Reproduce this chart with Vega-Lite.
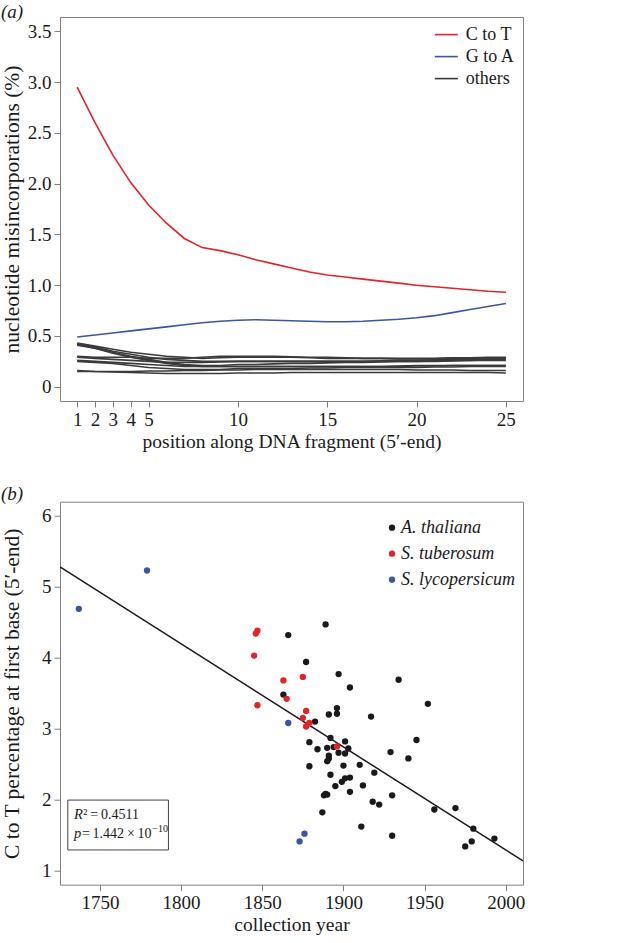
{
  "$schema": "https://vega.github.io/schema/vega-lite/v6.json",
  "background": "white",
  "padding": {"left": 0, "top": 2, "right": 5, "bottom": 5},
  "autosize": {"type": "pad"},
  "bounds": "flush",
  "spacing": 100.7,
  "resolve": {"scale": {"color": "independent", "strokeWidth": "independent", "x": "independent", "y": "independent"}, "legend": {"color": "independent"}},
  "config": {
    "font": "Liberation Serif",
    "view": {"stroke": "#808080", "strokeWidth": 1},
    "axis": {"domain": false, "grid": false, "ticks": true, "tickColor": "#808080", "tickSize": 6, "tickWidth": 1, "labelFont": "Liberation Serif", "labelFontSize": 19, "labelColor": "#1a1a1a", "labelPadding": 3, "titleFont": "Liberation Serif", "titleFontSize": 20.5, "titleFontWeight": "normal", "titleColor": "#1a1a1a", "labelFlush": false, "labelOverlap": false},
    "axisY": {"labelAngle": 0, "titlePadding": 3, "minExtent": 34, "maxExtent": 34, "titleFontSize": 21.5},
    "axisX": {"titlePadding": 3, "titleFontSize": 19.5},
    "title": {"font": "Liberation Serif", "fontSize": 19, "fontWeight": "normal", "fontStyle": "italic", "anchor": "start", "frame": "bounds", "color": "#1a1a1a"},
    "legend": {"labelFont": "Liberation Serif", "labelFontSize": 18, "labelColor": "#1a1a1a", "padding": 0}
  },
  "datasets": {
    "mis": [
      {"pos": 1, "CT": 2.95, "GA": 0.49, "o1": 0.43, "o2": 0.42, "o3": 0.41, "o4": 0.42, "o5": 0.30, "o6": 0.29, "o7": 0.26, "o8": 0.25, "o9": 0.16, "o10": 0.15},
      {"pos": 2, "CT": 2.60, "GA": 0.51, "o1": 0.40, "o2": 0.39, "o3": 0.38, "o4": 0.38, "o5": 0.29, "o6": 0.28, "o7": 0.25, "o8": 0.24, "o9": 0.15, "o10": 0.15},
      {"pos": 3, "CT": 2.28, "GA": 0.53, "o1": 0.37, "o2": 0.35, "o3": 0.34, "o4": 0.33, "o5": 0.29, "o6": 0.27, "o7": 0.24, "o8": 0.23, "o9": 0.145, "o10": 0.15},
      {"pos": 4, "CT": 2.01, "GA": 0.55, "o1": 0.34, "o2": 0.32, "o3": 0.30, "o4": 0.29, "o5": 0.29, "o6": 0.26, "o7": 0.23, "o8": 0.21, "o9": 0.14, "o10": 0.15},
      {"pos": 5, "CT": 1.79, "GA": 0.57, "o1": 0.32, "o2": 0.29, "o3": 0.27, "o4": 0.26, "o5": 0.28, "o6": 0.25, "o7": 0.22, "o8": 0.19, "o9": 0.135, "o10": 0.155},
      {"pos": 6, "CT": 1.61, "GA": 0.59, "o1": 0.30, "o2": 0.27, "o3": 0.24, "o4": 0.23, "o5": 0.28, "o6": 0.24, "o7": 0.21, "o8": 0.18, "o9": 0.13, "o10": 0.155},
      {"pos": 7, "CT": 1.46, "GA": 0.61, "o1": 0.29, "o2": 0.26, "o3": 0.22, "o4": 0.21, "o5": 0.28, "o6": 0.24, "o7": 0.20, "o8": 0.17, "o9": 0.13, "o10": 0.16},
      {"pos": 8, "CT": 1.37, "GA": 0.63, "o1": 0.28, "o2": 0.25, "o3": 0.21, "o4": 0.20, "o5": 0.29, "o6": 0.24, "o7": 0.20, "o8": 0.17, "o9": 0.13, "o10": 0.16},
      {"pos": 9, "CT": 1.34, "GA": 0.645, "o1": 0.285, "o2": 0.25, "o3": 0.21, "o4": 0.20, "o5": 0.30, "o6": 0.245, "o7": 0.20, "o8": 0.17, "o9": 0.13, "o10": 0.165},
      {"pos": 10, "CT": 1.30, "GA": 0.655, "o1": 0.29, "o2": 0.25, "o3": 0.22, "o4": 0.20, "o5": 0.30, "o6": 0.25, "o7": 0.20, "o8": 0.18, "o9": 0.135, "o10": 0.165},
      {"pos": 11, "CT": 1.25, "GA": 0.66, "o1": 0.29, "o2": 0.25, "o3": 0.22, "o4": 0.20, "o5": 0.30, "o6": 0.25, "o7": 0.20, "o8": 0.18, "o9": 0.135, "o10": 0.17},
      {"pos": 12, "CT": 1.21, "GA": 0.655, "o1": 0.29, "o2": 0.25, "o3": 0.225, "o4": 0.20, "o5": 0.30, "o6": 0.25, "o7": 0.20, "o8": 0.18, "o9": 0.135, "o10": 0.17},
      {"pos": 13, "CT": 1.17, "GA": 0.65, "o1": 0.29, "o2": 0.25, "o3": 0.23, "o4": 0.20, "o5": 0.295, "o6": 0.25, "o7": 0.20, "o8": 0.18, "o9": 0.14, "o10": 0.17},
      {"pos": 14, "CT": 1.13, "GA": 0.645, "o1": 0.285, "o2": 0.25, "o3": 0.23, "o4": 0.20, "o5": 0.29, "o6": 0.25, "o7": 0.20, "o8": 0.185, "o9": 0.14, "o10": 0.17},
      {"pos": 15, "CT": 1.10, "GA": 0.64, "o1": 0.28, "o2": 0.25, "o3": 0.235, "o4": 0.20, "o5": 0.29, "o6": 0.25, "o7": 0.20, "o8": 0.185, "o9": 0.14, "o10": 0.17},
      {"pos": 16, "CT": 1.08, "GA": 0.64, "o1": 0.28, "o2": 0.25, "o3": 0.24, "o4": 0.20, "o5": 0.285, "o6": 0.25, "o7": 0.20, "o8": 0.19, "o9": 0.14, "o10": 0.17},
      {"pos": 17, "CT": 1.06, "GA": 0.645, "o1": 0.28, "o2": 0.25, "o3": 0.24, "o4": 0.20, "o5": 0.28, "o6": 0.25, "o7": 0.20, "o8": 0.19, "o9": 0.14, "o10": 0.17},
      {"pos": 18, "CT": 1.04, "GA": 0.655, "o1": 0.28, "o2": 0.255, "o3": 0.245, "o4": 0.20, "o5": 0.28, "o6": 0.25, "o7": 0.20, "o8": 0.19, "o9": 0.14, "o10": 0.17},
      {"pos": 19, "CT": 1.02, "GA": 0.665, "o1": 0.28, "o2": 0.26, "o3": 0.25, "o4": 0.20, "o5": 0.275, "o6": 0.25, "o7": 0.205, "o8": 0.19, "o9": 0.14, "o10": 0.17},
      {"pos": 20, "CT": 1.00, "GA": 0.68, "o1": 0.28, "o2": 0.26, "o3": 0.25, "o4": 0.205, "o5": 0.275, "o6": 0.25, "o7": 0.21, "o8": 0.19, "o9": 0.14, "o10": 0.165},
      {"pos": 21, "CT": 0.985, "GA": 0.70, "o1": 0.28, "o2": 0.265, "o3": 0.255, "o4": 0.205, "o5": 0.275, "o6": 0.25, "o7": 0.21, "o8": 0.195, "o9": 0.14, "o10": 0.165},
      {"pos": 22, "CT": 0.97, "GA": 0.73, "o1": 0.285, "o2": 0.27, "o3": 0.26, "o4": 0.21, "o5": 0.28, "o6": 0.255, "o7": 0.21, "o8": 0.195, "o9": 0.14, "o10": 0.165},
      {"pos": 23, "CT": 0.955, "GA": 0.76, "o1": 0.285, "o2": 0.27, "o3": 0.26, "o4": 0.21, "o5": 0.28, "o6": 0.26, "o7": 0.21, "o8": 0.20, "o9": 0.14, "o10": 0.16},
      {"pos": 24, "CT": 0.94, "GA": 0.79, "o1": 0.29, "o2": 0.275, "o3": 0.265, "o4": 0.21, "o5": 0.28, "o6": 0.26, "o7": 0.21, "o8": 0.20, "o9": 0.14, "o10": 0.16},
      {"pos": 25, "CT": 0.93, "GA": 0.82, "o1": 0.29, "o2": 0.28, "o3": 0.27, "o4": 0.21, "o5": 0.28, "o6": 0.26, "o7": 0.21, "o8": 0.20, "o9": 0.135, "o10": 0.16}
    ],
    "samples": [
      {"year": 1866, "pct": 4.32, "species": "A. thaliana"},
      {"year": 1889, "pct": 4.47, "species": "A. thaliana"},
      {"year": 1877, "pct": 3.94, "species": "A. thaliana"},
      {"year": 1897, "pct": 3.77, "species": "A. thaliana"},
      {"year": 1934, "pct": 3.69, "species": "A. thaliana"},
      {"year": 1904, "pct": 3.58, "species": "A. thaliana"},
      {"year": 1863, "pct": 3.48, "species": "A. thaliana"},
      {"year": 1952, "pct": 3.35, "species": "A. thaliana"},
      {"year": 1882.5, "pct": 3.10, "species": "A. thaliana"},
      {"year": 1896, "pct": 3.29, "species": "A. thaliana"},
      {"year": 1891, "pct": 3.20, "species": "A. thaliana"},
      {"year": 1896, "pct": 3.21, "species": "A. thaliana"},
      {"year": 1917, "pct": 3.17, "species": "A. thaliana"},
      {"year": 1879, "pct": 2.81, "species": "A. thaliana"},
      {"year": 1892, "pct": 2.87, "species": "A. thaliana"},
      {"year": 1901, "pct": 2.82, "species": "A. thaliana"},
      {"year": 1884, "pct": 2.71, "species": "A. thaliana"},
      {"year": 1890, "pct": 2.73, "species": "A. thaliana"},
      {"year": 1894, "pct": 2.74, "species": "A. thaliana"},
      {"year": 1897, "pct": 2.66, "species": "A. thaliana"},
      {"year": 1903, "pct": 2.72, "species": "A. thaliana"},
      {"year": 1901, "pct": 2.65, "species": "A. thaliana"},
      {"year": 1891, "pct": 2.62, "species": "A. thaliana"},
      {"year": 1891, "pct": 2.58, "species": "A. thaliana"},
      {"year": 1890, "pct": 2.54, "species": "A. thaliana"},
      {"year": 1929, "pct": 2.67, "species": "A. thaliana"},
      {"year": 1945, "pct": 2.84, "species": "A. thaliana"},
      {"year": 1940, "pct": 2.58, "species": "A. thaliana"},
      {"year": 1879, "pct": 2.47, "species": "A. thaliana"},
      {"year": 1900, "pct": 2.48, "species": "A. thaliana"},
      {"year": 1910, "pct": 2.49, "species": "A. thaliana"},
      {"year": 1919, "pct": 2.38, "species": "A. thaliana"},
      {"year": 1892, "pct": 2.35, "species": "A. thaliana"},
      {"year": 1901, "pct": 2.30, "species": "A. thaliana"},
      {"year": 1904, "pct": 2.31, "species": "A. thaliana"},
      {"year": 1899, "pct": 2.25, "species": "A. thaliana"},
      {"year": 1895, "pct": 2.19, "species": "A. thaliana"},
      {"year": 1912, "pct": 2.20, "species": "A. thaliana"},
      {"year": 1904, "pct": 2.11, "species": "A. thaliana"},
      {"year": 1888, "pct": 2.06, "species": "A. thaliana"},
      {"year": 1890, "pct": 2.07, "species": "A. thaliana"},
      {"year": 1889, "pct": 2.08, "species": "A. thaliana"},
      {"year": 1930, "pct": 2.06, "species": "A. thaliana"},
      {"year": 1918, "pct": 1.97, "species": "A. thaliana"},
      {"year": 1922, "pct": 1.93, "species": "A. thaliana"},
      {"year": 1956, "pct": 1.86, "species": "A. thaliana"},
      {"year": 1969, "pct": 1.88, "species": "A. thaliana"},
      {"year": 1887, "pct": 1.82, "species": "A. thaliana"},
      {"year": 1911, "pct": 1.62, "species": "A. thaliana"},
      {"year": 1930, "pct": 1.49, "species": "A. thaliana"},
      {"year": 1980, "pct": 1.59, "species": "A. thaliana"},
      {"year": 1993, "pct": 1.45, "species": "A. thaliana"},
      {"year": 1979, "pct": 1.41, "species": "A. thaliana"},
      {"year": 1975, "pct": 1.34, "species": "A. thaliana"},
      {"year": 1847, "pct": 4.38, "species": "S. tuberosum"},
      {"year": 1846, "pct": 4.34, "species": "S. tuberosum"},
      {"year": 1845, "pct": 4.03, "species": "S. tuberosum"},
      {"year": 1863, "pct": 3.68, "species": "S. tuberosum"},
      {"year": 1875, "pct": 3.73, "species": "S. tuberosum"},
      {"year": 1865, "pct": 3.42, "species": "S. tuberosum"},
      {"year": 1847, "pct": 3.33, "species": "S. tuberosum"},
      {"year": 1877, "pct": 3.25, "species": "S. tuberosum"},
      {"year": 1875, "pct": 3.15, "species": "S. tuberosum"},
      {"year": 1879, "pct": 3.08, "species": "S. tuberosum"},
      {"year": 1877, "pct": 3.03, "species": "S. tuberosum"},
      {"year": 1896, "pct": 2.75, "species": "S. tuberosum"},
      {"year": 1737, "pct": 4.69, "species": "S. lycopersicum"},
      {"year": 1779, "pct": 5.23, "species": "S. lycopersicum"},
      {"year": 1866, "pct": 3.08, "species": "S. lycopersicum"},
      {"year": 1876, "pct": 1.52, "species": "S. lycopersicum"},
      {"year": 1873, "pct": 1.41, "species": "S. lycopersicum"}
    ],
    "fit": [
      {"year": 1725.4, "pct": 5.28},
      {"year": 2010.6, "pct": 1.135}
    ],
    "box": [
      {"year": 1730.2, "year2": 1792.2, "pct": 1.29, "pct2": 1.993}
    ],
    "annItalic": [
      {"year": 1734.1, "pct": 1.731, "t": "R"},
      {"year": 1734.1, "pct": 1.454, "t": "p"}
    ],
    "annPlain": [
      {"year": 1739.7, "pct": 1.731, "t": "²\u2009=\u20090.4511"},
      {"year": 1738.9, "pct": 1.454, "t": "\u2009=\u20091.442\u2009×\u200910"}
    ],
    "annSup": [
      {"year": 1782.3, "pct": 1.54, "t": "−10"}
    ]
  },
  "vconcat": [
    {
      "title": {"text": "(a)", "offset": -5},
      "width": 463,
      "height": 384,
      "data": {"name": "mis"},
      "transform": [{"fold": ["o1", "o2", "o3", "o4", "o5", "o6", "o7", "o8", "o9", "o10", "GA", "CT"], "as": ["series", "rate"]}],
      "mark": {"type": "line", "clip": true},
      "encoding": {
        "x": {"field": "pos", "type": "quantitative", "scale": {"domain": [0.04, 25.96], "nice": false, "zero": false}, "axis": {"values": [1, 2, 3, 4, 5, 10, 15, 20, 25], "title": "position along DNA fragment (5′-end)"}},
        "y": {"field": "rate", "type": "quantitative", "scale": {"domain": [-0.14, 3.64], "nice": false, "zero": false}, "axis": {"values": [0, 0.5, 1, 1.5, 2, 2.5, 3, 3.5], "labelExpr": "datum.value == 0 ? '0' : format(datum.value, '.1f')", "title": "nucleotide misincorporations (%)"}},
        "color": {"field": "series", "type": "nominal", "scale": {"domain": ["CT", "GA", "o1", "o2", "o3", "o4", "o5", "o6", "o7", "o8", "o9", "o10"], "range": ["#e3222b", "#3a55a4", "#3a3a3a", "#3a3a3a", "#3a3a3a", "#3a3a3a", "#3a3a3a", "#3a3a3a", "#3a3a3a", "#3a3a3a", "#3a3a3a", "#3a3a3a"]}, "legend": {"values": ["CT", "GA", "o1"], "labelExpr": "datum.value == 'CT' ? 'C to T' : datum.value == 'GA' ? 'G to A' : 'others'", "title": null, "orient": "none", "legendX": 373.8, "legendY": 5.1, "symbolType": "stroke", "symbolSize": 529, "symbolStrokeWidth": 1.6, "labelOffset": 7, "rowPadding": -1, "labelFontStyle": "normal"}},
        "strokeWidth": {"field": "series", "type": "nominal", "scale": {"domain": ["CT", "GA", "o1", "o2", "o3", "o4", "o5", "o6", "o7", "o8", "o9", "o10"], "range": [1.6, 1.6, 0.8, 0.8, 0.8, 0.8, 0.8, 0.8, 0.8, 0.8, 0.8, 0.8]}, "legend": null}
      }
    },
    {
      "title": {"text": "(b)", "offset": -2},
      "width": 463,
      "height": 383,
      "layer": [
        {
          "data": {"name": "fit"},
          "mark": {"type": "line", "color": "#1a1a1a", "strokeWidth": 1.5, "clip": true},
          "encoding": {
            "x": {"field": "year", "type": "quantitative", "scale": {"domain": [1725.4, 2010.6], "nice": false, "zero": false}, "axis": {"values": [1750, 1800, 1850, 1900, 1950, 2000], "format": "d", "title": "collection year"}},
            "y": {"field": "pct", "type": "quantitative", "scale": {"domain": [0.8, 6.2], "nice": false, "zero": false}, "axis": {"values": [1, 2, 3, 4, 5, 6], "format": "d", "title": "C to T percentage at first base (5′-end)"}}
          }
        },
        {
          "data": {"name": "samples"},
          "mark": {"type": "point", "filled": true, "size": 40, "opacity": 1},
          "encoding": {
            "x": {"field": "year", "type": "quantitative"},
            "y": {"field": "pct", "type": "quantitative"},
            "color": {"field": "species", "type": "nominal", "scale": {"domain": ["A. thaliana", "S. tuberosum", "S. lycopersicum"], "range": ["#1a1a1a", "#e3222b", "#3a55a4"]}, "legend": {"title": null, "orient": "none", "legendX": 323, "legendY": 17, "symbolType": "circle", "symbolSize": 40, "symbolOpacity": 1, "labelFontStyle": "italic", "labelOffset": 0, "rowPadding": 8}}
          }
        },
        {
          "data": {"name": "box"},
          "mark": {"type": "rect", "fill": "white", "stroke": "#444444", "strokeWidth": 1},
          "encoding": {
            "x": {"field": "year", "type": "quantitative"},
            "x2": {"field": "year2"},
            "y": {"field": "pct", "type": "quantitative"},
            "y2": {"field": "pct2"}
          }
        },
        {
          "data": {"name": "annItalic"},
          "mark": {"type": "text", "fontStyle": "italic", "fontSize": 14.5, "align": "left", "baseline": "alphabetic", "color": "#1a1a1a"},
          "encoding": {
            "x": {"field": "year", "type": "quantitative"},
            "y": {"field": "pct", "type": "quantitative"},
            "text": {"field": "t"}
          }
        },
        {
          "data": {"name": "annPlain"},
          "mark": {"type": "text", "fontSize": 14, "align": "left", "baseline": "alphabetic", "color": "#1a1a1a"},
          "encoding": {
            "x": {"field": "year", "type": "quantitative"},
            "y": {"field": "pct", "type": "quantitative"},
            "text": {"field": "t"}
          }
        },
        {
          "data": {"name": "annSup"},
          "mark": {"type": "text", "fontSize": 10, "align": "left", "baseline": "alphabetic", "color": "#1a1a1a"},
          "encoding": {
            "x": {"field": "year", "type": "quantitative"},
            "y": {"field": "pct", "type": "quantitative"},
            "text": {"field": "t"}
          }
        }
      ]
    }
  ]
}
